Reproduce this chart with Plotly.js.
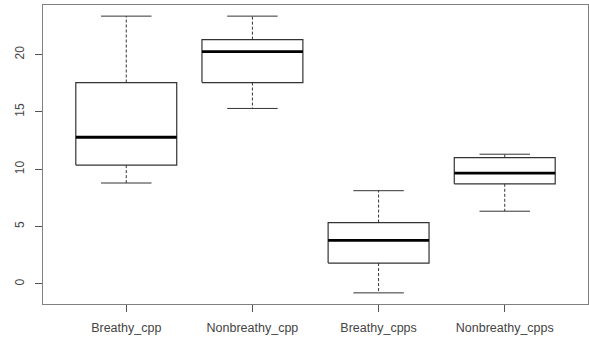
<!DOCTYPE html>
<html>
<head>
<meta charset="utf-8">
<script src="https://cdn.plot.ly/plotly-3.0.1.min.js"></script>
<style>html,body{margin:0;padding:0;background:#fff}#chart{width:589px;height:341px}</style>
</head>
<body>
<div id="chart"></div>
<script>
var categories = ["Breathy_cpp", "Nonbreathy_cpp", "Breathy_cpps", "Nonbreathy_cpps"];
var lowerWhisker = [8.8, 15.3, -0.78, 6.34];
var q1 = [10.36, 17.56, 1.82, 8.73];
var median = [12.79, 20.25, 3.79, 9.66];
var q3 = [17.56, 21.3, 5.35, 11.02];
var upperWhisker = [23.35, 23.35, 8.13, 11.31];
var yTicks = [0, 5, 10, 15, 20];

var boxHalf = 0.4, capHalf = 0.2;
var boxColor = "#333333";
var traces = [];
categories.forEach(function (c, i) {
  var x = i + 1;
  traces.push({x: [x, x, null, x, x], y: [q3[i], upperWhisker[i], null, q1[i], lowerWhisker[i]],
    mode: "lines", line: {color: boxColor, width: 1, dash: "3px,2px"}, hoverinfo: "skip"});
  traces.push({x: [x - capHalf, x + capHalf, null, x - capHalf, x + capHalf],
    y: [upperWhisker[i], upperWhisker[i], null, lowerWhisker[i], lowerWhisker[i]],
    mode: "lines", line: {color: boxColor, width: 1}, hoverinfo: "skip"});
  traces.push({x: [x - boxHalf, x + boxHalf, x + boxHalf, x - boxHalf, x - boxHalf],
    y: [q1[i], q1[i], q3[i], q3[i], q1[i]],
    mode: "lines", line: {color: boxColor, width: 1.2}, hoverinfo: "skip"});
  traces.push({x: [x - boxHalf, x + boxHalf], y: [median[i], median[i]],
    mode: "lines", line: {color: "#000000", width: 2.8}, hoverinfo: "skip"});
});

var layout = {
  width: 589, height: 341,
  margin: {l: 43, r: 1, t: 5, b: 37},
  paper_bgcolor: "#ffffff", plot_bgcolor: "#ffffff",
  showlegend: false,
  font: {family: "Liberation Sans, Arial, sans-serif", color: "#444444"},
  xaxis: {range: [0.34, 4.66], tickvals: [1, 2, 3, 4], ticktext: categories,
    showgrid: false, zeroline: false, showline: true, mirror: true, linecolor: "#808080", linewidth: 1.2,
    ticks: "outside", ticklen: 7, tickcolor: "#555555", ticklabelstandoff: 5,
    tickfont: {size: 12.5, color: "#444444"}},
  yaxis: {range: [-1.75, 24.32], tickvals: yTicks, ticktext: yTicks.map(String), tickangle: -90,
    showgrid: false, zeroline: false, showline: true, mirror: true, linecolor: "#808080", linewidth: 1.2,
    ticks: "outside", ticklen: 7, tickcolor: "#555555", ticklabelstandoff: 6,
    tickfont: {size: 12, color: "#444444"}}
};
Plotly.newPlot("chart", traces, layout, {displayModeBar: false, staticPlot: true});
</script>
</body>
</html>
